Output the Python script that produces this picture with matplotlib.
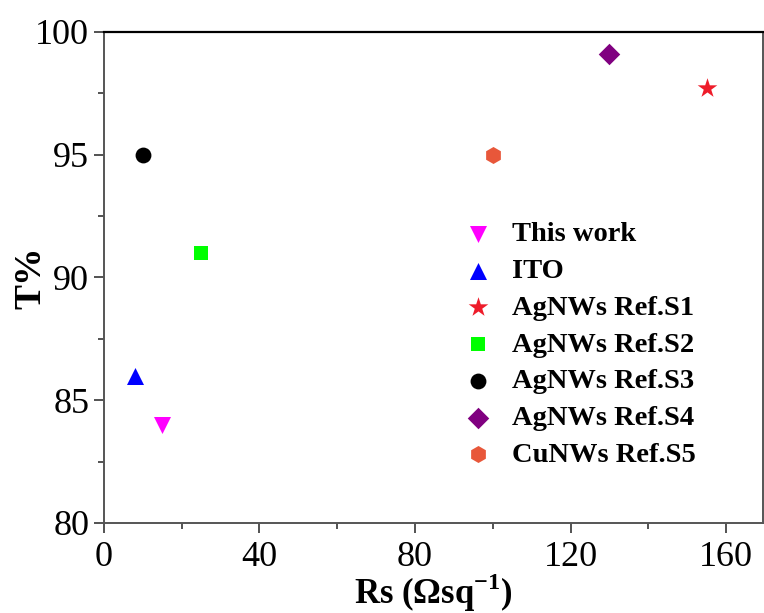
import matplotlib
matplotlib.use("Agg")
import matplotlib.pyplot as plt
from matplotlib.ticker import MultipleLocator

plt.rcParams['font.family'] = ['Liberation Serif', 'DejaVu Serif']
plt.rcParams['mathtext.fontset'] = 'custom'
plt.rcParams['mathtext.rm'] = 'Liberation Serif:bold'
plt.rcParams['mathtext.bf'] = 'Liberation Serif:bold'

labels = ["This work", "ITO", "AgNWs Ref.S1", "AgNWs Ref.S2",
          "AgNWs Ref.S3", "AgNWs Ref.S4", "CuNWs Ref.S5"]
rs_values = [15, 8, 155, 25, 10, 130, 100]
t_values = [84, 86, 97.7, 91, 95, 99.1, 95]
markers = ["v", "^", "*", "s", "o", "D", "h"]
colors = ["#FF00FF", "#0000FF", "#EE1C2A", "#00FF00", "#000000", "#800080", "#E8573A"]
sizes = [150, 150, 220, 110, 130, 120, 150]

fig = plt.figure(figsize=(7.64, 6.13), dpi=100)
ax = fig.add_axes([0.136, 0.147, 0.8627, 0.801])

for lab, x, y, m, c, s in zip(labels, rs_values, t_values, markers, colors, sizes):
    ax.scatter([x], [y], marker=m, color=c, s=s, label=lab, linewidths=0, zorder=3)

ax.set_xlim(0, 169.5)
ax.set_ylim(80, 100)
ax.xaxis.set_major_locator(MultipleLocator(40))
ax.xaxis.set_minor_locator(MultipleLocator(20))
ax.yaxis.set_major_locator(MultipleLocator(5))
ax.yaxis.set_minor_locator(MultipleLocator(2.5))
ax.tick_params(which='major', direction='out', length=7, width=1.3, labelsize=26, color='#444444')
ax.tick_params(which='minor', direction='out', length=4, width=1.3, color='#444444')
ax.tick_params(axis='x', pad=6)

for side in ['left', 'bottom', 'right']:
    ax.spines[side].set_color('#555555')
    ax.spines[side].set_linewidth(1.4)
ax.spines['top'].set_color('black')
ax.spines['top'].set_linewidth(1.6)

ax.set_xlabel(r"Rs ($\Omega$sq$^{\mathbf{-1}}$)", fontsize=25, fontweight='bold')
ax.set_ylabel("T%", fontsize=27, fontweight='bold')
ax.xaxis.label.set_va('center')
ax.yaxis.label.set_va('center')
ax.xaxis.set_label_coords(0.5, -0.142)
ax.yaxis.set_label_coords(-0.11, 0.5)

leg = ax.legend(loc='upper left', bbox_to_anchor=(0.507, 0.637), frameon=False,
                prop={'weight': 'bold', 'size': 20.5}, handletextpad=0.18,
                labelspacing=0.38, scatterpoints=1, borderaxespad=0)

fig.savefig("out.png", dpi=100)
